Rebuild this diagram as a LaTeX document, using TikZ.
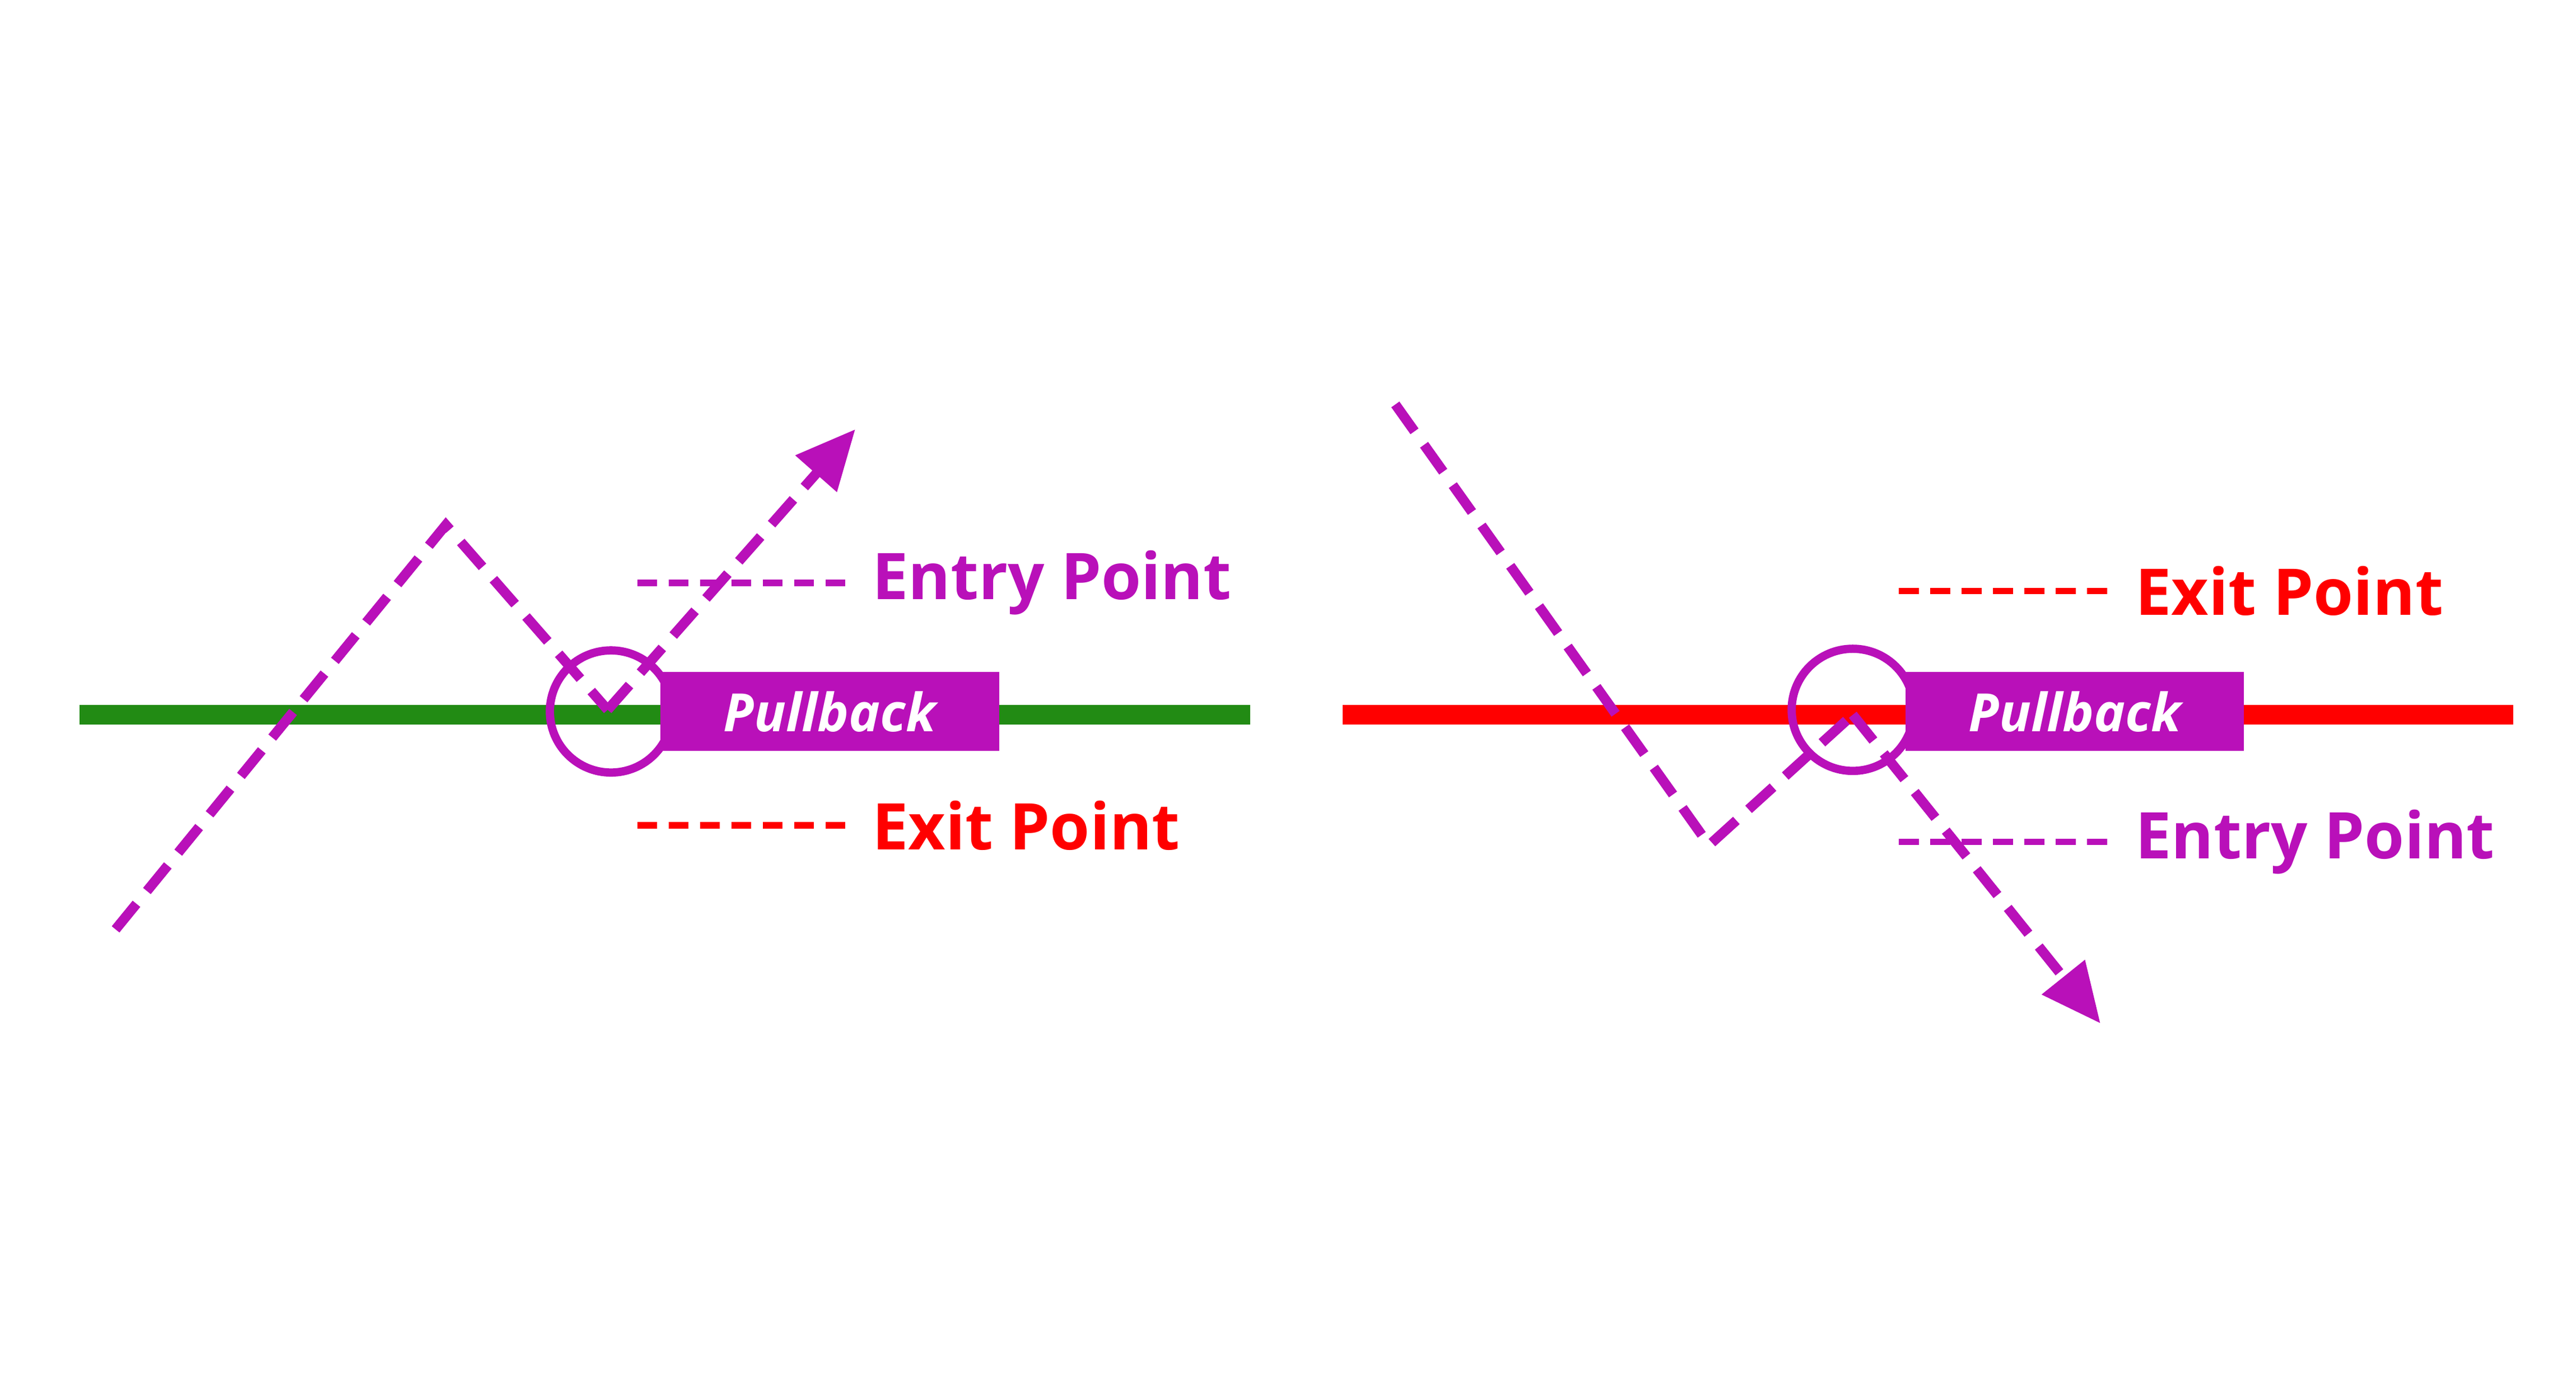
\documentclass[tikz,border=0pt]{standalone}
\usepackage{fontspec}
\setmainfont{Open Sans}
\usetikzlibrary{arrows.meta}
\definecolor{pur}{RGB}{185,16,185}
\definecolor{grn}{RGB}{34,139,20}
\definecolor{rd}{RGB}{255,0,0}
\tikzset{
 pth/.style={pur,line width=6pt,dash pattern=on 20pt off 10pt},
 arr/.style={pth,-{Triangle[length=36pt,width=32pt]}},
 lev/.style={line width=12pt},
 ring/.style={draw=pur,line width=5pt,circle,minimum size=74pt,inner sep=0pt},
 pb/.style={fill=pur,text=white,font=\fontsize{32}{40}\selectfont\bfseries\itshape,minimum width=205pt,minimum height=48pt,inner sep=0pt},
 leg/.style={line width=4pt,dash pattern=on 12pt off 7pt},
 lab/.style={font=\fontsize{39}{48}\selectfont\bfseries,anchor=west,inner sep=0pt}
}
\begin{document}
\begin{tikzpicture}[x=1pt,y=-1pt]
\useasboundingbox (0,0) rectangle (1560,843);
% left
\coordinate (gl) at (48,433); \coordinate (gr) at (757,433);
\draw[grn,lev] (gl) -- (gr);
\node[pb] (pb1) at (502.5,431) {Pullback};
\coordinate (a0) at (70,563); \coordinate (a1) at (270,318); \coordinate (a2) at (368,430); \coordinate (a3) at (518,260);
\draw[pth] (a0) -- (a1) -- (a2);
\draw[arr] (a2) -- (a3);
\node[ring] (c1) at (370,431) {};
\coordinate (e1) at (386,353); \coordinate (e1b) at (515,353);
\draw[leg,pur] (e1) -- (e1b);
\node[lab,text=pur] (t1) at (528,353) {Entry Point};
\coordinate (x1) at (386,500); \coordinate (x1b) at (515,500);
\draw[leg,rd] (x1) -- (x1b);
\node[lab,text=rd] (t2) at (528,500) {Exit Point};
% right
\coordinate (rl) at (813,433); \coordinate (rr) at (1522,433);
\draw[rd,lev] (rl) -- (rr);
\node[pb] (pb2) at (1256.5,431) {Pullback};
\coordinate (b0) at (845,245); \coordinate (b1) at (1035,512); \coordinate (b2) at (1122,433); \coordinate (b3) at (1272,620);
\draw[pth] (b0) -- (b1) -- (b2);
\draw[arr] (b2) -- (b3);
\node[ring] (c2) at (1122,430) {};
\coordinate (x2) at (1150,358); \coordinate (x2b) at (1282,358);
\draw[leg,rd] (x2) -- (x2b);
\node[lab,text=rd] (t3) at (1293,358) {Exit Point};
\coordinate (e2) at (1150,510); \coordinate (e2b) at (1282,510);
\draw[leg,pur] (e2) -- (e2b);
\node[lab,text=pur] (t4) at (1293,510) {Entry Point};
\end{tikzpicture}
\end{document}
